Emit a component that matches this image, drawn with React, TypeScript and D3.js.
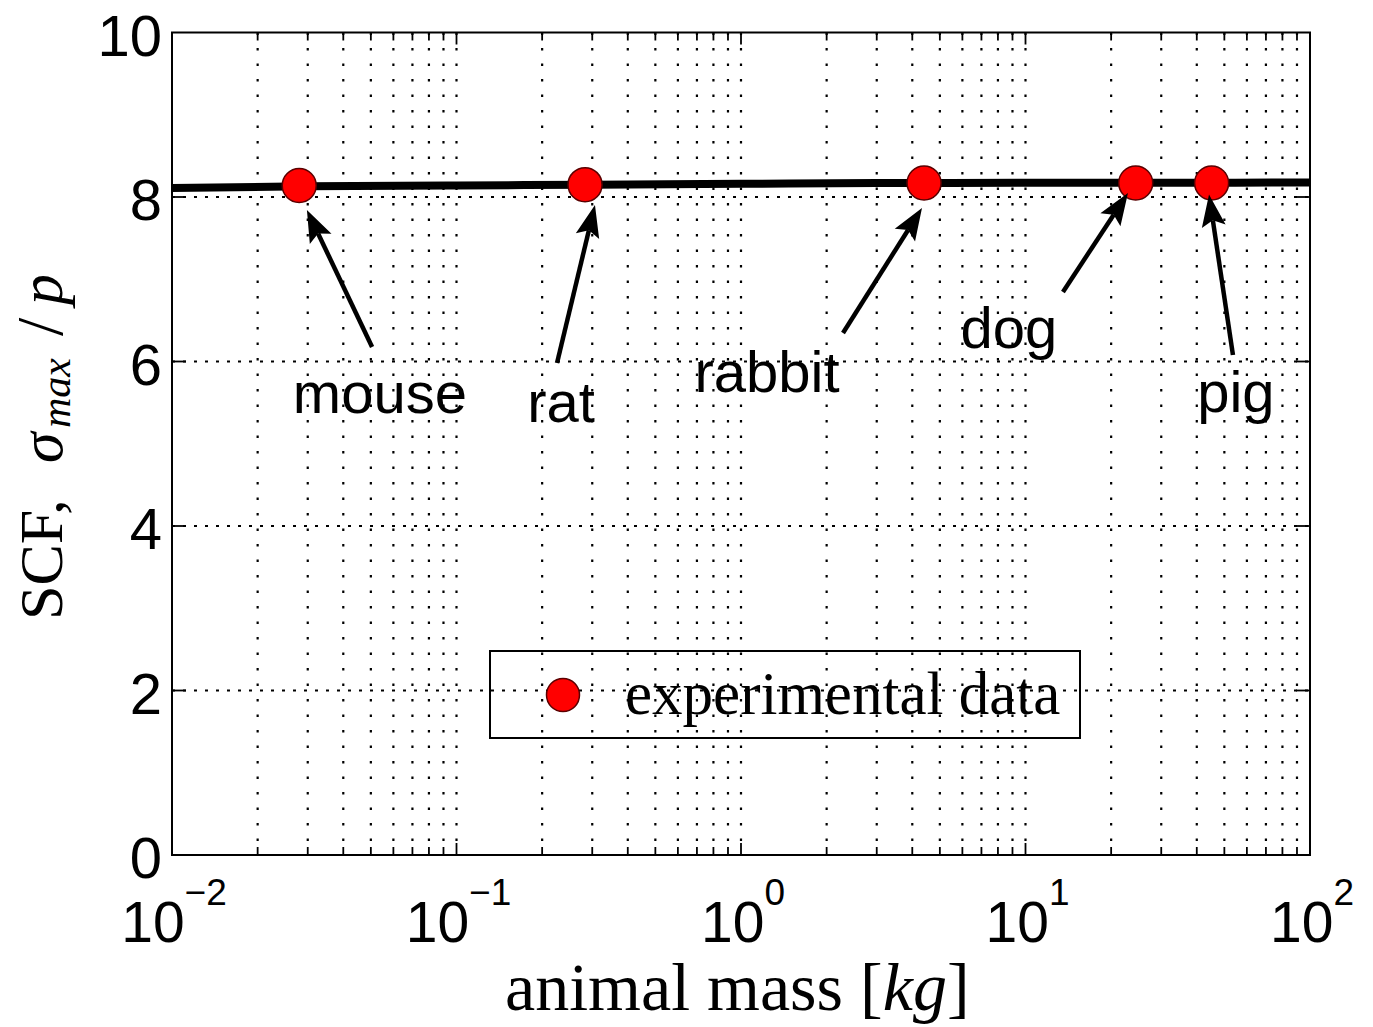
import React from 'react';
import * as d3 from 'd3';

// ---- data ----
const animals = ['mouse', 'rat', 'rabbit', 'dog', 'pig'];
const masses = [0.028, 0.283, 4.4, 24.4, 45.1];
const scfValues = [8.14, 8.15, 8.17, 8.17, 8.17];

const curveMasses = [0.01, 0.03, 0.1, 0.3, 1, 3, 10, 30, 100];
const curveValues = [8.11, 8.13, 8.14, 8.15, 8.16, 8.17, 8.172, 8.174, 8.175];

// annotation label anchor (centre / baseline) in data units
const labelMasses = [0.0538, 0.233, 1.234, 8.75, 54.9];
const labelValues = [5.374, 5.265, 5.629, 6.164, 5.386];
// arrow tail and tip in data units
const tailMasses = [0.0505, 0.2256, 2.283, 13.54, 53.6];
const tailValues = [6.176, 5.982, 6.347, 6.845, 6.079];
const tipMasses = [0.0298, 0.3067, 4.327, 22.92, 44.16];
const tipValues = [7.842, 7.903, 7.866, 8.049, 8.03];

const xTickExponents = [-2, -1, 0, 1, 2];
const xMinorMultipliers = [2, 3, 4, 5, 6, 7, 8, 9];
const yTicks = [0, 2, 4, 6, 8, 10];
const legendLabel = 'experimental data';

const W = 1373;
const H = 1027;
const L = 172, R = 1310, T = 32.5, B = 855;

const SANS = '"Liberation Sans", Arial, Helvetica, sans-serif';
const SERIF = '"Liberation Serif", "Times New Roman", serif';

export default function App() {
  const x = d3.scaleLog().domain([0.01, 100]).range([L, R]);
  const y = d3.scaleLinear().domain([0, 10]).range([B, T]);

  const minorVals: number[] = [];
  for (let e = -2; e < 2; e++) {
    for (const m of xMinorMultipliers) minorVals.push(m * Math.pow(10, e));
  }
  const majorInner = xTickExponents.slice(1, -1).map((e) => Math.pow(10, e));
  const vGrid = [...minorVals, ...majorInner];
  const hGrid = yTicks.slice(1, -1);

  const line = d3
    .line<number>()
    .x((_, i) => x(curveMasses[i]))
    .y((d) => y(d))
    .curve(d3.curveMonotoneX);

  const arrows = animals.map((_, i) => {
    const tx = x(tailMasses[i]), ty = y(tailValues[i]);
    const hx = x(tipMasses[i]), hy = y(tipValues[i]);
    const dx = hx - tx, dy = hy - ty;
    const len = Math.hypot(dx, dy);
    const ux = dx / len, uy = dy / len;
    const headLen = 32, headHalf = 12;
    const bx = hx - ux * headLen, by = hy - uy * headLen;
    const px = -uy, py = ux;
    const pts = [
      [hx, hy],
      [bx + px * headHalf, by + py * headHalf],
      [hx - ux * (headLen - 6), hy - uy * (headLen - 6)],
      [bx - px * headHalf, by - py * headHalf],
    ];
    return { tx, ty, ex: bx + ux * 6, ey: by + uy * 6, pts };
  });

  return (
    <svg
      width={W}
      height={H}
      style={{ position: 'absolute', left: 0, top: 0, background: '#fff' }}
    >
      <rect x={0} y={0} width={W} height={H} fill="#fff" />
      {/* grid */}
      {vGrid.map((v, i) => (
        <line
          key={'vg' + i}
          x1={x(v)}
          x2={x(v)}
          y1={T}
          y2={B}
          stroke="#000"
          strokeWidth={2.2}
          strokeDasharray="2.5,13"
        />
      ))}
      {hGrid.map((v, i) => (
        <line
          key={'hg' + i}
          x1={L}
          x2={R}
          y1={y(v)}
          y2={y(v)}
          stroke="#000"
          strokeWidth={2}
          strokeDasharray="3,8"
        />
      ))}
      {/* ticks */}
      {minorVals.map((v, i) => (
        <g key={'mt' + i} stroke="#000" strokeWidth={1.8}>
          <line x1={x(v)} x2={x(v)} y1={B} y2={B - 8} />
          <line x1={x(v)} x2={x(v)} y1={T} y2={T + 8} />
        </g>
      ))}
      {majorInner.map((v, i) => (
        <g key={'Mt' + i} stroke="#000" strokeWidth={1.8}>
          <line x1={x(v)} x2={x(v)} y1={B} y2={B - 12} />
          <line x1={x(v)} x2={x(v)} y1={T} y2={T + 12} />
        </g>
      ))}
      {hGrid.map((v, i) => (
        <g key={'yt' + i} stroke="#000" strokeWidth={1.8}>
          <line x1={L} x2={L + 14} y1={y(v)} y2={y(v)} />
          <line x1={R} x2={R - 14} y1={y(v)} y2={y(v)} />
        </g>
      ))}
      {/* curve */}
      <path d={line(curveValues) || ''} fill="none" stroke="#000" strokeWidth={8} />
      {/* points */}
      {masses.map((m, i) => (
        <circle
          key={'p' + i}
          cx={x(m)}
          cy={y(scfValues[i])}
          r={17}
          fill="#ff0000"
          stroke="#5a0000"
          strokeWidth={1.5}
        />
      ))}
      {/* arrows */}
      {arrows.map((a, i) => (
        <g key={'a' + i}>
          <line x1={a.tx} y1={a.ty} x2={a.ex} y2={a.ey} stroke="#000" strokeWidth={4.5} />
          <polygon points={a.pts.map((p) => p.join(',')).join(' ')} fill="#000" />
        </g>
      ))}
      {/* annotation labels */}
      {animals.map((name, i) => (
        <text
          key={'l' + i}
          x={x(labelMasses[i])}
          y={y(labelValues[i])}
          textAnchor="middle"
          fontFamily={SANS}
          fontSize={58}
          fill="#000"
        >
          {name}
        </text>
      ))}
      {/* legend */}
      <g>
        <rect x={490} y={651} width={590} height={87} fill="none" stroke="#000" strokeWidth={2} />
        <circle cx={563} cy={695} r={16.5} fill="#ff0000" stroke="#5a0000" strokeWidth={1.5} />
        <text x={625} y={714} fontFamily={SERIF} fontSize={61} fill="#000">
          {legendLabel}
        </text>
      </g>
      {/* axes box */}
      <rect x={L} y={T} width={R - L} height={B - T} fill="none" stroke="#000" strokeWidth={2} />
      {/* y tick labels */}
      {yTicks.map((v) => (
        <text
          key={'yl' + v}
          x={162}
          y={y(v) + 23}
          textAnchor="end"
          fontFamily={SANS}
          fontSize={58}
          fill="#000"
        >
          {v}
        </text>
      ))}
      {/* x tick labels */}
      {xTickExponents.map((e) => (
        <text
          key={'xl' + e}
          x={x(Math.pow(10, e)) + 2}
          y={942}
          textAnchor="middle"
          fontFamily={SANS}
          fontSize={57}
          fill="#000"
        >
          <tspan>10</tspan>
          <tspan dy={-37} fontSize={37}>
            {e < 0 ? '\u2212' + Math.abs(e) : String(e)}
          </tspan>
        </text>
      ))}
      {/* x axis title */}
      <text x={505} y={1010} fontFamily={SERIF} fontSize={68} fill="#000">
        <tspan>animal mass </tspan>
        <tspan>[</tspan>
        <tspan fontStyle="italic">kg</tspan>
        <tspan>]</tspan>
      </text>
      {/* y axis title */}
      <g transform="translate(62,620) rotate(-90)" fontFamily={SERIF} fill="#000">
        <text x={0} y={0} fontSize={62}>SCF,</text>
        <text x={157} y={0} fontSize={62} fontStyle="italic">σ</text>
        <text x={192} y={8} fontSize={42} fontStyle="italic">max</text>
        <text x={284} y={0} fontSize={66}>/</text>
        <text x={315} y={0} fontSize={62} fontStyle="italic">p</text>
      </g>
    </svg>
  );
}
